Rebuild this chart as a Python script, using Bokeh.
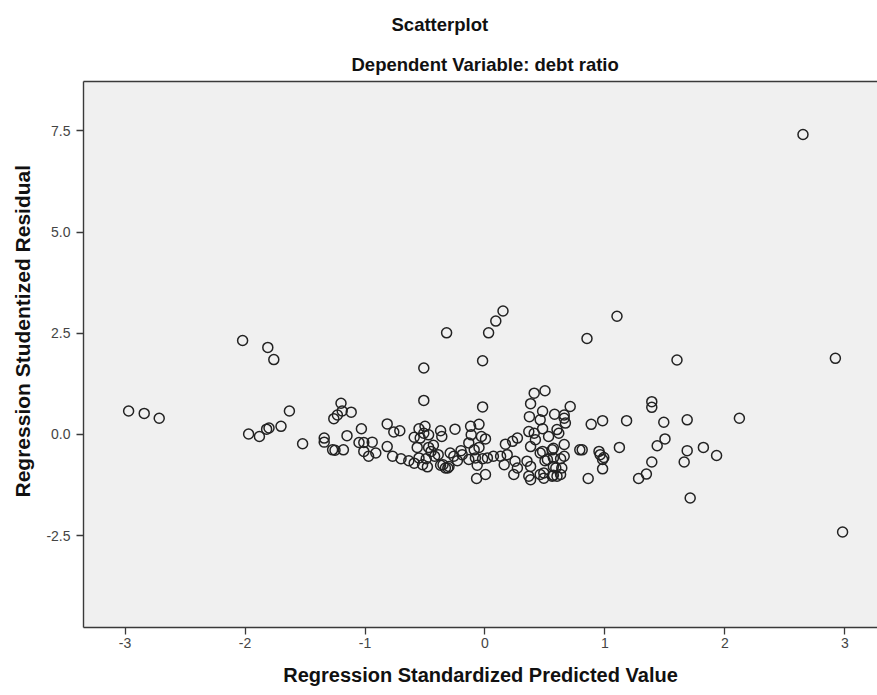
from bokeh.plotting import figure
from bokeh.models import Range1d, FixedTicker, NumeralTickFormatter, LinearAxis, Title
from bokeh.embed import file_html
from bokeh.resources import INLINE

# Regression standardized predicted value (x) and studentized residual (y)
pred = [
    2.65, 2.92, 2.98, 1.60, 1.10, 0.85, 0.15, 0.09, 0.03, -0.32, -0.02, -0.51, -0.51, -0.02,
    -2.02, -1.81, -1.76,
    -2.97, -2.84, -2.715, -1.97, -1.88, -1.82, -1.80, -1.70, -1.63, -1.52, -1.34, -1.34,
    -1.27, -1.25, -1.18, -1.20, -1.23, -1.26, -1.115, -1.19, -1.15, -1.03, -1.05, -1.01,
    -0.94, -1.01, -0.97, -0.91,
    0.41, 0.50, 0.38, 0.48, 0.58, 0.37, 0.46,
    -0.815, -0.76, -0.71, -0.815, -0.77, -0.70, -0.635, -0.59, -0.55, -0.50, -0.51, -0.47,
    -0.54, -0.565, -0.47, -0.43, -0.55, -0.49, -0.52, -0.48, -0.59, -0.37, -0.36, -0.42,
    -0.35, -0.33, -0.30, -0.25, -0.26, -0.23, -0.19, -0.135, -0.12, -0.05, -0.115, -0.03,
    0.004, -0.135, -0.09, -0.05, -0.08, -0.02, 0.02, -0.065, -0.07, 0.004, 0.07, 0.13,
    0.16, 0.17, 0.23, 0.27, 0.25, 0.27, 0.24, 0.35, 0.38, 0.365, 0.38, 0.41, 0.365, 0.42,
    0.48, 0.38, 0.46, 0.53, 0.56, 0.50, 0.57, 0.46, 0.49, 0.56, 0.60, 0.60,
    -0.39, -0.29, 0.185, -0.45, -0.20, -0.37, -0.31,
    0.66, 0.66, 0.67, 0.71, 0.615, 0.57, 0.66, 0.66,
    0.48, 0.52, 0.57, 0.63, 0.64, 0.59, 0.57, 0.63, 0.49,
    0.885, 0.98, 1.18, 0.79, 0.81, 0.95, 0.96, 0.99, 0.98, 0.98, 0.86, 1.12, 1.39, 1.39,
    1.49, 1.50, 1.435, 1.39, 1.345, 1.28, 1.685, 1.685, 1.66, 2.12, 1.82, 1.93, 1.71,
]
resid = [
    7.41, 1.88, -2.41, 1.84, 2.92, 2.37, 3.05, 2.80, 2.51, 2.51, 1.82, 1.64, 0.84, 0.68,
    2.32, 2.15, 1.85,
    0.58, 0.52, 0.40, 0.01, -0.05, 0.13, 0.16, 0.20, 0.58, -0.23, -0.09, -0.19,
    -0.38, -0.39, -0.38, 0.77, 0.48, 0.39, 0.55, 0.58, -0.03, 0.14, -0.20, -0.20,
    -0.19, -0.42, -0.54, -0.46,
    1.02, 1.08, 0.76, 0.57, 0.50, 0.44, 0.36,
    0.26, 0.06, 0.09, -0.30, -0.54, -0.60, -0.65, -0.07, 0.14, 0.20, 0.03, -0.01,
    -0.09, -0.32, -0.32, -0.27, -0.58, -0.60, -0.75, -0.80, -0.71, 0.09, -0.05, -0.54,
    -0.75, -0.83, -0.79, 0.13, -0.54, -0.65, -0.50, -0.62, 0.20, 0.25, -0.01, -0.05,
    -0.11, -0.21, -0.38, -0.32, -0.58, -0.60, -0.58, -0.76, -1.09, -0.99, -0.54, -0.54,
    -0.75, -0.24, -0.17, -0.09, -0.66, -0.83, -0.99, -0.66, -0.79, -1.03, -1.12, 0.03, 0.07, -0.13,
    0.14, -0.30, -0.46, -0.05, -0.38, -0.65, -0.79, -0.99, -0.95, -1.03, -1.03, 0.12,
    -0.50, -0.46, -0.50, -0.42, -0.40, -0.76, -0.83,
    0.48, 0.40, 0.28, 0.69, 0.03, -0.34, -0.25, -0.54,
    -0.42, -0.62, -0.58, -0.60, -0.83, -0.83, -1.01, -0.99, -1.08,
    0.25, 0.34, 0.34, -0.38, -0.38, -0.42, -0.50, -0.57, -0.62, -0.85, -1.09, -0.32, 0.81, 0.67,
    0.30, -0.11, -0.28, -0.68, -0.98, -1.09, 0.36, -0.40, -0.68, 0.40, -0.32, -0.52, -1.57,
]

x_ticks = [-3, -2, -1, 0, 1, 2, 3]
y_ticks = [-2.5, 0.0, 2.5, 5.0, 7.5]

title_text = "Scatterplot"
subtitle_text = "Dependent Variable: debt ratio"
x_label = "Regression Standardized Predicted Value"
y_label = "Regression Studentized Residual"

FONT = "Liberation Sans"
DARK = "#3a3a3a"

p = figure(
    width=877, height=695,
    x_range=Range1d(-3.346, 3.271), y_range=Range1d(-4.77, 8.72),
    output_backend="svg", toolbar_location=None,
    min_border_left=83, min_border_right=0, min_border_top=81, min_border_bottom=68,
    background_fill_color="#F0F0F0", border_fill_color="white",
)
p.outline_line_color = None
p.grid.visible = False

for ax in (p.xaxis[0], p.yaxis[0]):
    ax.axis_line_color = DARK
    ax.axis_line_width = 1.4
    ax.major_tick_line_color = DARK
    ax.major_tick_line_width = 1.3
    ax.major_tick_out = 7
    ax.major_tick_in = 0
    ax.minor_tick_line_color = None
    ax.major_label_text_font = FONT
    ax.major_label_text_font_size = "14px"
    ax.major_label_text_color = "#444444"
    ax.axis_label_text_font = FONT
    ax.axis_label_text_font_style = "bold"
    ax.axis_label_text_font_size = "20px"
    ax.axis_label_text_color = "#111111"

p.xaxis[0].ticker = FixedTicker(ticks=x_ticks)
p.xaxis[0].formatter = NumeralTickFormatter(format="0")
p.xaxis[0].axis_label = x_label
p.xaxis[0].major_label_standoff = 3
p.xaxis[0].axis_label_standoff = 13

p.yaxis[0].ticker = FixedTicker(ticks=y_ticks)
p.yaxis[0].formatter = NumeralTickFormatter(format="0.0")
p.yaxis[0].major_label_standoff = 6

top_axis = LinearAxis(ticker=FixedTicker(ticks=[]), axis_line_color=DARK, axis_line_width=1.4,
                      major_tick_line_color=None, minor_tick_line_color=None,
                      major_tick_out=0, major_tick_in=0, major_label_standoff=0,
                      major_label_text_font_size="0px")
p.add_layout(top_axis, "above")

p.add_layout(Title(text=subtitle_text, align="left", offset=268, standoff=14,
                   vertical_align="bottom", text_font=FONT, text_font_style="bold",
                   text_font_size="18.5px", text_color="#111111"), "above")
p.add_layout(Title(text=title_text, align="left", offset=308, standoff=20,
                   vertical_align="bottom", text_font=FONT, text_font_style="bold",
                   text_font_size="18.5px", text_color="#111111"), "above")

p.add_layout(Title(text=y_label, align="left", offset=130, standoff=16,
                   vertical_align="top", text_font=FONT, text_font_style="bold",
                   text_font_size="21px", text_color="#111111"), "left")

p.scatter(pred, resid, marker="circle", size=10, fill_color=None,
          line_color="#222222", line_width=1.5)

open("out.html", "w").write(file_html(p, INLINE))
